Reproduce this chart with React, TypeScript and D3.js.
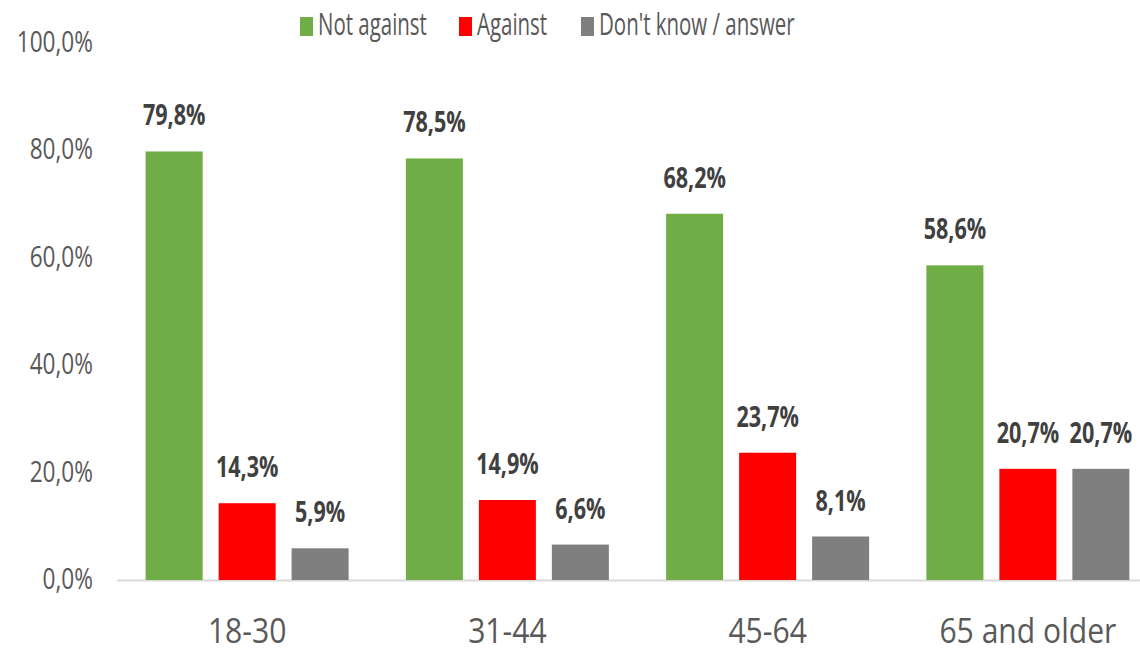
import React, { useEffect, useRef } from "react";
import * as d3 from "d3";

const categories = ["18-30", "31-44", "45-64", "65 and older"];
const seriesNames = ["Not against", "Against", "Don't know / answer"];
const notAgainst = [79.8, 78.5, 68.2, 58.6];
const against = [14.3, 14.9, 23.7, 20.7];
const dontKnow = [5.9, 6.6, 8.1, 20.7];
const yTicks = [0, 20, 40, 60, 80, 100];
const colors = ["#70AD47", "#FF0000", "#7F7F7F"];

const W = 1140;
const H = 653;
const FONT = "'Open Sans', 'Liberation Sans', sans-serif";

const fmt = (v: number) => v.toFixed(1).replace(".", ",") + "%";

export default function App() {
  const ref = useRef<SVGSVGElement>(null);

  useEffect(() => {
    const svg = d3.select(ref.current);
    svg.selectAll("*").remove();
    const values = [notAgainst, against, dontKnow];

    const y = d3.scaleLinear().domain([0, 100]).range([580, 43]);
    const x0 = d3
      .scaleBand<string>()
      .domain(categories)
      .range([117, 1158])
      .paddingInner(0.22)
      .paddingOuter(0.11);
    const x1 = d3
      .scaleBand<string>()
      .domain(seriesNames)
      .range([0, x0.bandwidth()])
      .paddingInner(0.219)
      .paddingOuter(0);

    // y tick labels
    const tickSx = 0.78;
    svg
      .append("g")
      .selectAll("g")
      .data(yTicks)
      .join("g")
      .attr("transform", (d) => `translate(93,${y(d) + 9}) scale(${tickSx},1)`)
      .append("text")
      .attr("text-anchor", "end")
      .attr("font-family", FONT)
      .attr("font-size", 29)
      .attr("fill", "#595959")
      .text((d) => d.toFixed(1).replace(".", ",") + "%");

    // axis line
    svg
      .append("line")
      .attr("x1", 117)
      .attr("x2", W)
      .attr("y1", y(0) + 0.5)
      .attr("y2", y(0) + 0.5)
      .attr("stroke", "#D9D9D9")
      .attr("stroke-width", 2);

    // bars
    const groups = svg
      .append("g")
      .selectAll("g")
      .data(categories)
      .join("g")
      .attr("transform", (d) => `translate(${x0(d)},0)`);

    groups.each(function (cat, ci) {
      const g = d3.select(this);
      seriesNames.forEach((s, si) => {
        const v = values[si][ci];
        g.append("rect")
          .attr("x", x1(s)!)
          .attr("width", x1.bandwidth())
          .attr("y", y(v))
          .attr("height", y(0) - y(v))
          .attr("fill", colors[si]);
        g.append("g")
          .attr(
            "transform",
            `translate(${x1(s)! + x1.bandwidth() / 2},${y(v) - 26}) scale(0.77,1)`
          )
          .append("text")
          .attr("text-anchor", "middle")
          .attr("font-family", FONT)
          .attr("font-weight", "bold")
          .attr("font-size", 28)
          .attr("fill", "#404040")
          .text(fmt(v));
      });
    });

    // category labels
    svg
      .append("g")
      .selectAll("g")
      .data(categories)
      .join("g")
      .attr(
        "transform",
        (d) => `translate(${x0(d)! + x0.bandwidth() / 2},643) scale(0.86,1)`
      )
      .append("text")
      .attr("text-anchor", "middle")
      .attr("font-family", FONT)
      .attr("font-size", 35)
      .attr("fill", "#595959")
      .text((d) => d);

    // legend
    const legendX = [300, 459, 581];
    const leg = svg
      .append("g")
      .selectAll("g")
      .data(seriesNames)
      .join("g")
      .attr("transform", (_d, i) => `translate(${legendX[i]},0)`);
    leg
      .append("rect")
      .attr("x", 0)
      .attr("y", 17)
      .attr("width", 13)
      .attr("height", 19)
      .attr("fill", (_d, i) => colors[i]);
    leg
      .append("g")
      .attr("transform", "translate(18,35) scale(0.66,1)")
      .append("text")
      .attr("font-family", FONT)
      .attr("font-size", 31)
      .attr("fill", "#595959")
      .text((d) => d);
  }, []);

  return (
    <svg
      ref={ref}
      width={W}
      height={H}
      style={{ position: "absolute", left: 0, top: 0, background: "#fff" }}
    />
  );
}
